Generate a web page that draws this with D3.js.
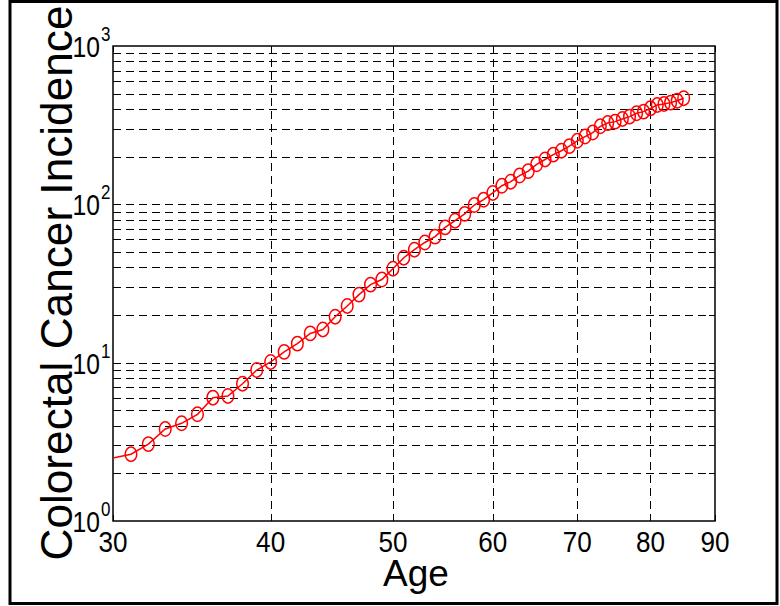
<!DOCTYPE html>
<html>
<head>
<meta charset="utf-8">
<script src="https://cdn.jsdelivr.net/npm/d3@7"></script>
<style>
  body { margin: 0; background: #fff; }
  text { font-family: "Liberation Sans", Arial, sans-serif; fill: #000; }
</style>
</head>
<body>
<div id="chart"></div>
<script>
// age of each point; age 30 only anchors the start of the line (no marker)
var ages = [30, 31, 32, 33, 34, 35, 36, 37, 38, 39, 40, 41, 42, 43, 44, 45, 46, 47, 48, 49,
  50, 51, 52, 53, 54, 55, 56, 57, 58, 59, 60, 61, 62, 63, 64, 65, 66, 67, 68, 69,
  70, 71, 72, 73, 74, 75, 76, 77, 78, 79, 80, 81, 82, 83, 84, 85];
var incidence = [2.5, 2.64, 3.06, 3.81, 4.14, 4.72, 6.01, 6.16, 7.36, 8.99, 10.1, 11.7, 13.2, 15.3, 16.2, 19.5, 22.8, 26.9, 31.1, 33.5,
  39.2, 46, 51.7, 57.4, 62.5, 71.5, 78.8, 87, 99, 107, 118, 131, 139, 152, 162, 179, 192, 206, 218, 233,
  252, 268, 284, 311, 326, 333, 346, 358, 376, 385, 404, 424, 430, 439, 451, 468];
var xTicks = [30, 40, 50, 60, 70, 80, 90];
var yTicks = [1, 10, 100, 1000];
var yExponents = ["0", "1", "2", "3"];

var width = 780, height = 606;
var plotLeft = 113, plotRight = 715, plotTop = 46, plotBottom = 521;

var svg = d3.select("#chart").append("svg")
  .attr("width", width)
  .attr("height", height);

// figure border
svg.append("rect")
  .attr("x", 10).attr("y", 1.5)
  .attr("width", 767).attr("height", 602)
  .attr("fill", "none")
  .attr("stroke", "#000")
  .attr("stroke-width", 3);

var x = d3.scaleLog().domain([30, 90]).range([plotLeft, plotRight]);
var y = d3.scaleLog().domain([1, 1000]).range([plotBottom, plotTop]);

// minor values 2..10 per decade (below 1000)
var yGrid = [];
[1, 10, 100].forEach(function (dec) {
  [2, 3, 4, 5, 6, 7, 8, 9, 10].forEach(function (m) {
    if (dec * m < 1000) yGrid.push(dec * m);
  });
});

var grid = svg.append("g")
  .attr("stroke", "#000")
  .attr("stroke-width", 1)
  .attr("stroke-dasharray", "8,5")
  .attr("shape-rendering", "crispEdges");

grid.selectAll(".hgrid")
  .data(yGrid)
  .enter()
  .append("line")
  .attr("class", "hgrid")
  .attr("x1", plotLeft).attr("x2", plotRight)
  .attr("y1", function (d) { return Math.round(y(d)) + 0.5; })
  .attr("y2", function (d) { return Math.round(y(d)) + 0.5; });

grid.selectAll(".vgrid")
  .data(xTicks.slice(1, -1))
  .enter()
  .append("line")
  .attr("class", "vgrid")
  .attr("y1", plotTop).attr("y2", plotBottom)
  .attr("x1", function (d) { return Math.round(x(d)) + 0.5; })
  .attr("x2", function (d) { return Math.round(x(d)) + 0.5; });

// inward ticks on all four sides
var ticks = svg.append("g")
  .attr("stroke", "#000")
  .attr("stroke-width", 1)
  .attr("shape-rendering", "crispEdges");

yGrid.forEach(function (d) {
  var yy = Math.round(y(d)) + 0.5;
  ticks.append("line").attr("x1", plotLeft).attr("x2", plotLeft + 6).attr("y1", yy).attr("y2", yy);
  ticks.append("line").attr("x1", plotRight).attr("x2", plotRight - 6).attr("y1", yy).attr("y2", yy);
});
xTicks.forEach(function (d) {
  var xx = Math.round(x(d)) + 0.5;
  ticks.append("line").attr("x1", xx).attr("x2", xx).attr("y1", plotBottom).attr("y2", plotBottom - 6);
  ticks.append("line").attr("x1", xx).attr("x2", xx).attr("y1", plotTop).attr("y2", plotTop + 6);
});

// axes box
svg.append("rect")
  .attr("x", plotLeft).attr("y", plotTop)
  .attr("width", plotRight - plotLeft).attr("height", plotBottom - plotTop)
  .attr("fill", "none")
  .attr("stroke", "#000")
  .attr("stroke-width", 1.5);

// x tick labels
svg.selectAll(".xlabel")
  .data(xTicks)
  .enter()
  .append("text")
  .attr("class", "xlabel")
  .attr("transform", function (d) { return "translate(" + x(d) + ",552) scale(0.9,1)"; })
  .attr("text-anchor", "middle")
  .style("font-size", "29px")
  .text(function (d) { return d; });

// y tick labels as 10^n
var ylab = svg.selectAll(".ylabel")
  .data(yTicks)
  .enter()
  .append("g")
  .attr("class", "ylabel")
  .attr("transform", function (d) { return "translate(100," + y(d) + ")"; });

ylab.append("text")
  .attr("transform", "translate(0,11) scale(0.85,1)")
  .attr("text-anchor", "end")
  .style("font-size", "29px")
  .text("10");

ylab.append("text")
  .attr("transform", "translate(1,-5) scale(0.85,1)")
  .attr("text-anchor", "start")
  .style("font-size", "20px")
  .text(function (d, i) { return yExponents[i]; });

// axis titles
svg.append("text")
  .attr("x", 416).attr("y", 586)
  .attr("text-anchor", "middle")
  .style("font-size", "37px")
  .text("Age");

svg.append("text")
  .attr("transform", "translate(71.5,283) rotate(-90)")
  .attr("text-anchor", "middle")
  .attr("textLength", 555)
  .attr("lengthAdjust", "spacingAndGlyphs")
  .style("font-size", "44px")
  .text("Colorectal Cancer Incidence");

// data line and markers
var points = ages.map(function (a, i) { return { age: a, value: incidence[i] }; });

var line = d3.line()
  .x(function (d) { return x(d.age); })
  .y(function (d) { return y(d.value); });

svg.append("path")
  .datum(points)
  .attr("d", line)
  .attr("fill", "none")
  .attr("stroke", "#ff0000")
  .attr("stroke-width", 1.5);

svg.selectAll(".marker")
  .data(points.slice(1))
  .enter()
  .append("ellipse")
  .attr("class", "marker")
  .attr("cx", function (d) { return x(d.age); })
  .attr("cy", function (d) { return y(d.value); })
  .attr("rx", 5.8)
  .attr("ry", 7.2)
  .attr("fill", "none")
  .attr("stroke", "#ff0000")
  .attr("stroke-width", 1.5);
</script>
</body>
</html>
